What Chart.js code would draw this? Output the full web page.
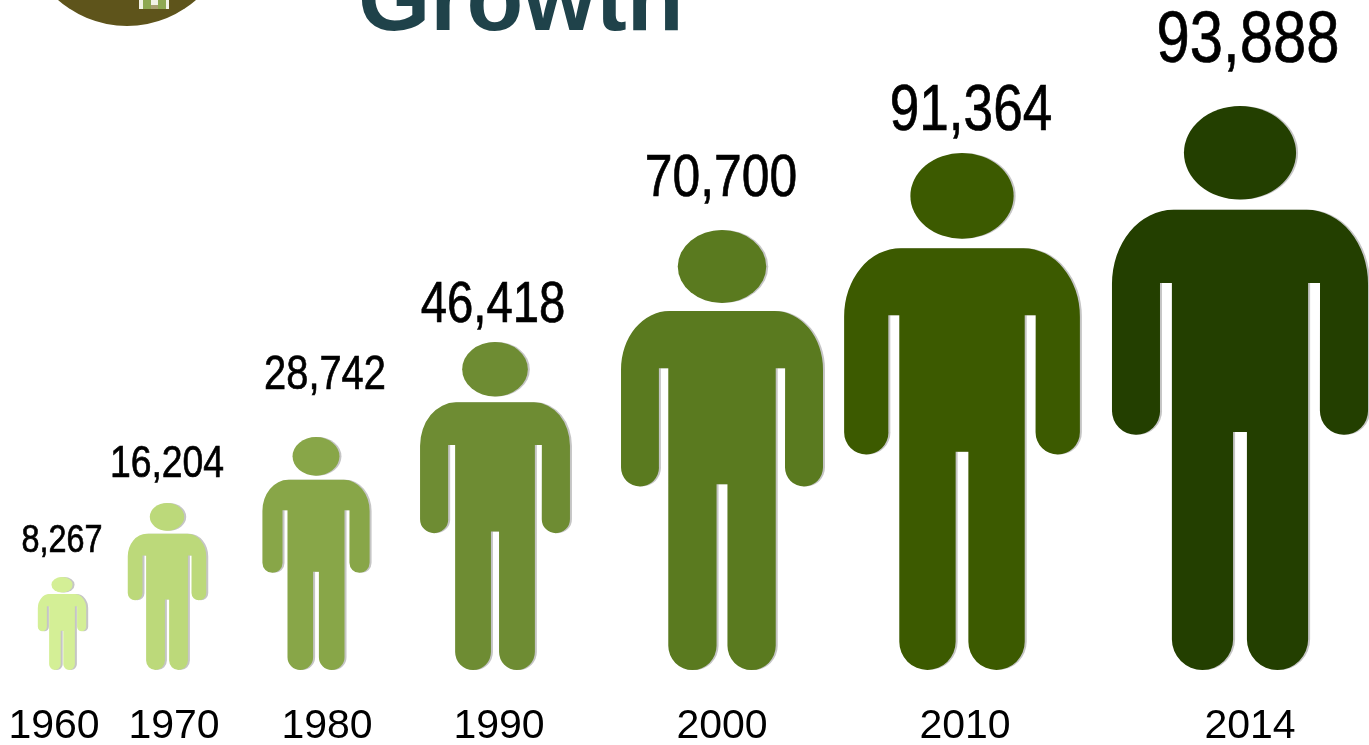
<!DOCTYPE html>
<html>
<head>
<meta charset="utf-8">
<title>Growth</title>
<script src="https://cdn.jsdelivr.net/npm/chart.js@4/dist/chart.umd.min.js"></script>
<style>
  html, body { margin: 0; background: #fff; overflow: hidden; }
  canvas { display: block; filter: blur(0.6px); }
</style>
</head>
<body>
<canvas id="grafico" width="1369" height="745"></canvas>
<script>
const years = ['1960', '1970', '1980', '1990', '2000', '2010', '2014'];
const population = [8267, 16204, 28742, 46418, 70700, 91364, 93888];
const figureColors = ['#d4ef96', '#bcd97a', '#88a648', '#6e8c33', '#5a7a1f', '#3c5a00', '#233f00'];

const FONT = '"Liberation Sans", sans-serif';

// The picture has no real axes: the people sit at uneven places and their
// height is not proportional to the count, so both scales are calibrated.
class SlotScale extends Chart.CategoryScale {
  static id = 'slots';
  static defaults = { ticks: { callback(v) { return this.getLabelForValue(v); } } };
  getPixelForValue(value, index) {
    const i = typeof value === 'number' ? value : index;
    return this.options.figureCentres[i] * this.chart.width;
  }
  getPixelForTick(index) {
    return this.options.tickCentres[index] * this.chart.width;
  }
}

class FigureScale extends Chart.LinearScale {
  static id = 'figureHeight';
  static defaults = Chart.LinearScale.defaults;
  getPixelForValue(value) {
    const stops = this.options.stops;
    let i = 1;
    while (i < stops.length - 1 && value > stops[i][0]) i++;
    const [v0, h0] = stops[i - 1];
    const [v1, h1] = stops[i];
    return this.bottom - (h0 + (value - v0) / (v1 - v0) * (h1 - h0)) * this.height;
  }
}
Chart.register(SlotScale, FigureScale);

// person outline, everything relative to the figure's box
const drawPerson = (ctx, cx, top, w, h) => {
  const X = f => cx - w / 2 + f * w;
  const Y = f => top + f * h;
  const armR = 0.094 * w;
  const legR = 0.1195 * w;
  const shoulderX = 0.24 * w;
  const shoulderY = 0.29 * w;
  const shoulderTop = Y(0.184);

  ctx.beginPath();
  ctx.ellipse(X(0.5), Y(0.083), 0.219 * w, 0.083 * h, 0, 0, Math.PI * 2);
  ctx.fill();

  ctx.beginPath();
  ctx.moveTo(X(0), Y(0.583) - armR);
  ctx.lineTo(X(0), shoulderTop + shoulderY);
  ctx.ellipse(X(0) + shoulderX, shoulderTop + shoulderY, shoulderX, shoulderY, 0, Math.PI, Math.PI * 1.5);
  ctx.lineTo(X(1) - shoulderX, shoulderTop);
  ctx.ellipse(X(1) - shoulderX, shoulderTop + shoulderY, shoulderX, shoulderY, 0, Math.PI * 1.5, Math.PI * 2);
  ctx.lineTo(X(1), Y(0.583) - armR);
  ctx.arc(X(1) - armR, Y(0.583) - armR, armR, 0, Math.PI);
  ctx.lineTo(X(0.8125), Y(0.314));
  ctx.lineTo(X(0.766), Y(0.314));
  ctx.lineTo(X(0.766), Y(1) - legR);
  ctx.arc(X(0.766) - legR, Y(1) - legR, legR, 0, Math.PI);
  ctx.lineTo(X(0.527), Y(0.578));
  ctx.lineTo(X(0.473), Y(0.578));
  ctx.lineTo(X(0.473), Y(1) - legR);
  ctx.arc(X(0.473) - legR, Y(1) - legR, legR, 0, Math.PI);
  ctx.lineTo(X(0.234), Y(0.314));
  ctx.lineTo(X(0.1875), Y(0.314));
  ctx.lineTo(X(0.1875), Y(0.583) - armR);
  ctx.arc(X(0) + armR, Y(0.583) - armR, armR, 0, Math.PI);
  ctx.closePath();
  ctx.fill();
};

const figureStyle = { aspect: [0.52, 0.47, 0.46, 0.457, 0.459, 0.456, 0.454] };
const labelStyle = {
  sizes: [39, 45, 48, 57, 60, 64, 72],
  shift: [0, 0, 9, -2, -1, 9, 8],
  gap: [25, 26, 48, 20, 34, 23, 44],
  squeeze: 0.83
};

const peoplePlugin = {
  id: 'people',
  beforeDraw(chart) {
    const ctx = chart.ctx;
    ctx.save();
    // badge cut off by the top edge, with the small house in it
    ctx.fillStyle = '#5e541b';
    ctx.beginPath();
    ctx.arc(127, -78.6, 104.6, 0, Math.PI * 2);
    ctx.fill();
    ctx.fillStyle = '#f2f2e6';
    ctx.fillRect(139, 0, 30, 9);
    ctx.fillStyle = '#8ea852';
    ctx.fillRect(143, 0, 8, 9);
    ctx.fillRect(158, 0, 8, 9);
    ctx.fillStyle = '#a8a070';
    ctx.fillRect(151, 5, 7, 4);
    ctx.fillStyle = '#1f424a';
    ctx.font = 'bold 93px ' + FONT;
    ctx.textAlign = 'left';
    ctx.textBaseline = 'alphabetic';
    ctx.fillText('Growth', 358, 30);
    ctx.restore();
  },
  afterDatasetsDraw(chart) {
    const ctx = chart.ctx;
    chart.getDatasetMeta(0).data.forEach((bar, i) => {
      const h = bar.base - bar.y;
      const w = h * figureStyle.aspect[i];
      ctx.save();
      ctx.shadowColor = 'rgba(90,90,90,0.35)';
      ctx.shadowOffsetX = 2;
      ctx.fillStyle = figureColors[i];
      drawPerson(ctx, bar.x, bar.y, w, h);
      ctx.restore();

      ctx.save();
      ctx.translate(bar.x + labelStyle.shift[i], bar.y - labelStyle.gap[i]);
      ctx.scale(labelStyle.squeeze, 1);
      ctx.fillStyle = '#000';
      ctx.strokeStyle = '#000';
      ctx.lineWidth = 0.7;
      ctx.font = labelStyle.sizes[i] + 'px ' + FONT;
      ctx.textAlign = 'center';
      ctx.textBaseline = 'alphabetic';
      const text = population[i].toLocaleString('en-US');
      ctx.fillText(text, 0, 0);
      ctx.strokeText(text, 0, 0);
      ctx.restore();
    });
  }
};

new Chart(document.getElementById('grafico'), {
  type: 'bar',
  data: {
    labels: years,
    datasets: [{ data: population, backgroundColor: 'rgba(0,0,0,0)', borderWidth: 0 }]
  },
  options: {
    responsive: false,
    animation: false,
    devicePixelRatio: 1,
    layout: { padding: 0 },
    plugins: { legend: { display: false }, tooltip: { enabled: false } },
    scales: {
      x: {
        type: 'slots',
        figureCentres: [62, 167, 316, 495, 722, 962, 1240].map(p => p / 1369),
        tickCentres: [54, 174, 327, 499, 722, 965, 1250].map(p => p / 1369),
        grid: { display: false, drawTicks: false },
        border: { display: false },
        afterFit: s => { s.height = 75; s.paddingLeft = 0; s.paddingRight = 0; },
        ticks: {
          autoSkip: false,
          maxRotation: 0,
          padding: 32,
          color: '#000',
          font: { family: FONT, size: 41 }
        }
      },
      y: {
        type: 'figureHeight',
        display: false,
        min: 0,
        max: 110000,
        stops: [[0, 0], [8267, 93], [16204, 167], [28742, 233], [46418, 328], [70700, 440], [91364, 517], [93888, 564], [110000, 670]]
          .map(([v, h]) => [v, h / 670])
      }
    }
  },
  plugins: [peoplePlugin]
});
</script>
</body>
</html>
